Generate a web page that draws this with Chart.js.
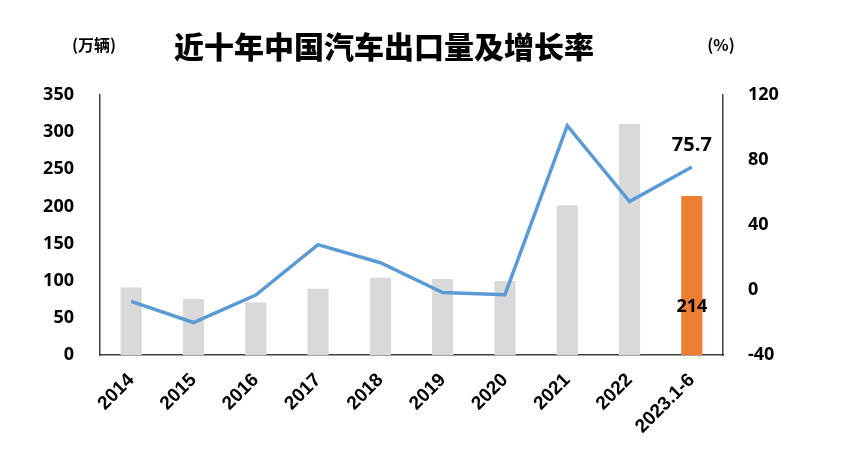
<!DOCTYPE html>
<html>
<head>
<meta charset="utf-8">
<script src="https://cdn.jsdelivr.net/npm/chart.js@4.4.0/dist/chart.umd.min.js"></script>
<style>
	html, body { margin: 0; padding: 0; background: #fff; }
	#wrap { width: 852px; height: 465px; }
</style>
</head>
<body>
<div id="wrap"><canvas id="export-chart"></canvas></div>
<script>
const years = ["2014", "2015", "2016", "2017", "2018", "2019", "2020", "2021", "2022", "2023.1-6"];
// 出口量 (万辆)
const exportVolume = [91, 75.5, 70.8, 89.1, 104.1, 102.4, 99.5, 201.5, 311.1, 214];
// 增长率 (%)
const growthRate = [-7.0, -20.0, -3.1, 27.9, 16.8, -1.6, -2.9, 101.1, 54.4, 75.7];
const barColors = ["#d9d9d9", "#d9d9d9", "#d9d9d9", "#d9d9d9", "#d9d9d9", "#d9d9d9", "#d9d9d9", "#d9d9d9", "#d9d9d9", "#ed7d31"];

const exportChart = document.getElementById("export-chart");

// title, unit labels and the two value labels
const textPlugin = {
	id: "textPlugin",
	afterDatasetsDraw(chart) {
		const ctx = chart.ctx;
		ctx.save();
		ctx.fillStyle = "#000";
		ctx.textBaseline = "middle";
		ctx.textAlign = "center";
		ctx.font = "900 30px 'Noto Sans CJK SC'";
		ctx.fillText("近十年中国汽车出口量及增长率", 384, 47);
		ctx.font = "bold 16px 'Noto Sans CJK SC'";
		ctx.fillText("(万辆)", 94, 45);
		ctx.fillText("(%)", 721, 45);

		const last = years.length - 1;
		const bar = chart.getDatasetMeta(1).data[last];
		const point = chart.getDatasetMeta(0).data[last];
		ctx.font = "bold 20px 'Open Sans'";
		ctx.fillText(growthRate[last].toFixed(1), point.x, point.y - 22);
		ctx.font = "bold 18px 'Open Sans'";
		ctx.fillText(String(exportVolume[last]), bar.x, 307);
		ctx.restore();
	},
};

new Chart(exportChart, {
	data: {
		labels: years,
		datasets: [
			{
				type: "line",
				label: "增长率",
				data: growthRate,
				yAxisID: "y1",
				borderColor: "#5b9bd5",
				borderWidth: 3.5,
				pointRadius: 0,
				tension: 0,
				order: 0,
			},
			{
				type: "bar",
				label: "出口量",
				data: exportVolume,
				yAxisID: "y",
				backgroundColor: barColors,
				categoryPercentage: 1,
				barPercentage: 0.34,
				order: 1,
			},
		],
	},
	plugins: [textPlugin],
	options: {
		responsive: true,
		maintainAspectRatio: false,
		animation: false,
		layout: {
			padding: { top: 95, left: 0, right: 0, bottom: 0 },
		},
		plugins: {
			legend: { display: false },
			tooltip: { enabled: false },
		},
		scales: {
			x: {
				grid: { display: false },
				border: { display: true, color: "#404040", width: 1.5 },
				ticks: {
					color: "#000",
					minRotation: 45,
					maxRotation: 45,
					padding: 6,
					font: { family: "'Liberation Sans'", size: 19, weight: "bold" },
				},
				afterFit(scale) {
					scale.height = 110;
				},
			},
			y: {
				position: "left",
				min: 0,
				max: 350,
				grid: { display: false },
				border: { display: true, color: "#404040", width: 1.5 },
				ticks: {
					stepSize: 50,
					color: "#000",
					padding: 18,
					font: { family: "'Open Sans'", size: 18, weight: "bold" },
				},
				afterFit(scale) {
					scale.width = 100;
				},
			},
			y1: {
				position: "right",
				min: -40,
				max: 120,
				grid: { display: false },
				border: { display: true, color: "#404040", width: 1.5 },
				ticks: {
					stepSize: 40,
					color: "#000",
					padding: 17,
					font: { family: "'Open Sans'", size: 18, weight: "bold" },
				},
				afterFit(scale) {
					scale.width = 129;
				},
			},
		},
	},
});
</script>
</body>
</html>
